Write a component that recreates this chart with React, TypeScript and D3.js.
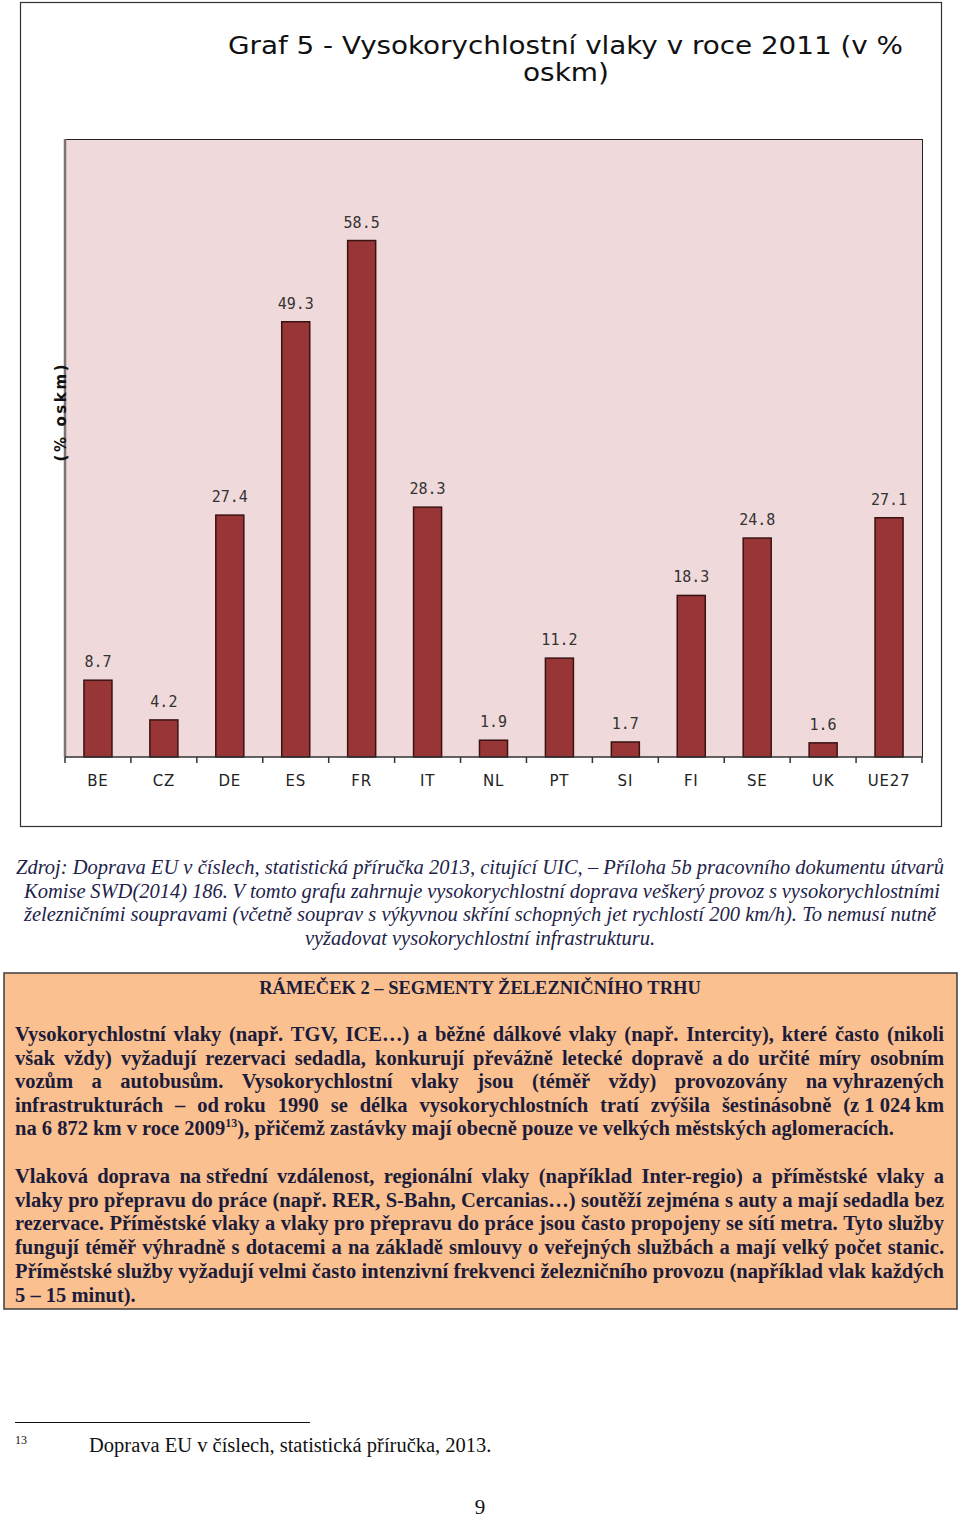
import { useEffect, useRef } from 'react';
import * as d3 from 'd3';

const countries = ['BE', 'CZ', 'DE', 'ES', 'FR', 'IT', 'NL', 'PT', 'SI', 'FI', 'SE', 'UK', 'UE27'];
const shares = [8.7, 4.2, 27.4, 49.3, 58.5, 28.3, 1.9, 11.2, 1.7, 18.3, 24.8, 1.6, 27.1];

const titleLines = ['Graf 5 - Vysokorychlostní vlaky v roce 2011 (v %', 'oskm)'];
const yLabel = '(% oskm)';

const captionLines = [
  'Zdroj: Doprava EU v číslech, statistická příručka 2013, citující UIC, – Příloha 5b pracovního dokumentu útvarů',
  'Komise SWD(2014) 186. V tomto grafu zahrnuje vysokorychlostní doprava veškerý provoz s vysokorychlostními',
  'železničními soupravami (včetně souprav s výkyvnou skříní schopných jet rychlostí 200 km/h). To nemusí nutně',
  'vyžadovat vysokorychlostní infrastrukturu.',
];

const boxTitle = 'RÁMEČEK 2 – SEGMENTY ŽELEZNIČNÍHO TRHU';

const para1 = [
  'Vysokorychlostní vlaky (např. TGV, ICE…) a běžné dálkové vlaky (např. Intercity), které často (nikoli',
  'však vždy) vyžadují rezervaci sedadla, konkurují převážně letecké dopravě a\u00a0do určité míry osobním',
  'vozům a autobusům. Vysokorychlostní vlaky jsou (téměř vždy) provozovány na\u00a0vyhrazených',
  'infrastrukturách – od\u00a0roku 1990 se délka vysokorychlostních tratí zvýšila šestinásobně (z\u00a01\u00a0024\u00a0km',
];
const para1Last = ['na 6 872 km v roce 2009', '13', '), přičemž zastávky mají obecně pouze ve velkých městských aglomeracích.'];

const para2 = [
  'Vlaková doprava na\u00a0střední vzdálenost, regionální vlaky (například Inter-regio) a příměstské vlaky a',
  'vlaky pro přepravu do práce (např. RER, S-Bahn, Cercanias…) soutěží zejména s auty a mají sedadla bez',
  'rezervace. Příměstské vlaky a vlaky pro přepravu do práce jsou často propojeny se sítí metra. Tyto služby',
  'fungují téměř výhradně s dotacemi a na základě smlouvy o veřejných službách a mají velký počet stanic.',
  'Příměstské služby vyžadují velmi často intenzivní frekvenci železničního provozu (například vlak každých',
];
const para2Last = '5 – 15 minut).';

const footnoteNum = '13';
const footnoteText = 'Doprava EU v číslech, statistická příručka, 2013.';
const pageNum = '9';

const SERIF = '"Liberation Serif", "Times New Roman", serif';
const INK = '#1c1c3a';
const TXT = 20.5;

// spread words across [x0, x1] by measuring each word
function justifyLine(
  g: d3.Selection<SVGGElement, unknown, null, undefined>,
  line: string,
  x0: number,
  x1: number,
  y: number,
  style: { size: number; weight?: string; italic?: boolean; fill: string },
) {
  const words = line.split(' ');
  const t = g
    .append('text')
    .attr('y', y)
    .attr('font-family', SERIF)
    .attr('font-size', style.size)
    .attr('font-weight', style.weight ?? 'normal')
    .attr('font-style', style.italic ? 'italic' : 'normal')
    .attr('fill', style.fill);
  const spans = words.map((w) => t.append('tspan').attr('x', x0).text(w));
  const widths = spans.map((s) => (s.node() as SVGTSpanElement).getComputedTextLength());
  const total = d3.sum(widths);
  let gap = words.length > 1 ? (x1 - x0 - total) / (words.length - 1) : 0;
  if (gap < 2) {
    // too long: squeeze glyphs a little
    const k = (x1 - x0 - 2 * (words.length - 1)) / total;
    t.attr('transform', `translate(${x0},0) scale(${k},1) translate(${-x0},0)`);
    gap = 2 / k;
  }
  let x = x0;
  spans.forEach((s, i) => {
    s.attr('x', x);
    x += widths[i] + gap;
  });
}

export default function App() {
  const svgRef = useRef<SVGSVGElement>(null);

  useEffect(() => {
    const svg = d3.select(svgRef.current);
    if (!svg.node()) return;
    svg.selectAll('*').remove();

    // ---- chart frame ----
    svg
      .append('rect')
      .attr('x', 20.5)
      .attr('y', 2.5)
      .attr('width', 921)
      .attr('height', 824)
      .attr('fill', '#fff')
      .attr('stroke', '#333')
      .attr('stroke-width', 1.2);

    const titleG = svg.append('g').attr('font-family', '"DejaVu Sans Condensed", "DejaVu Sans", sans-serif').attr('fill', '#111');
    titleG
      .append('text')
      .attr('x', 228)
      .attr('y', 54)
      .attr('font-size', 25)
      .attr('textLength', 675)
      .attr('lengthAdjust', 'spacingAndGlyphs')
      .text(titleLines[0]);
    titleG
      .append('text')
      .attr('x', 523)
      .attr('y', 81)
      .attr('font-size', 25)
      .attr('textLength', 86)
      .attr('lengthAdjust', 'spacingAndGlyphs')
      .text(titleLines[1]);

    const plot = { left: 65, right: 922, top: 139, bottom: 757 };

    const x = d3.scaleBand<string>().domain(countries).range([plot.left, plot.right]).paddingInner(0.575).paddingOuter(0.2875);
    const y = d3.scaleLinear().domain([0, 70]).range([plot.bottom, plot.top]);

    svg
      .append('rect')
      .attr('x', plot.left)
      .attr('y', plot.top)
      .attr('width', plot.right - plot.left)
      .attr('height', plot.bottom - plot.top)
      .attr('fill', '#efd9da');
    // borders: top and right dark, left gray
    svg.append('line').attr('x1', plot.left).attr('x2', plot.right).attr('y1', plot.top + 0.5).attr('y2', plot.top + 0.5).attr('stroke', '#222');
    svg.append('line').attr('x1', plot.right + 0.5).attr('x2', plot.right + 0.5).attr('y1', plot.top).attr('y2', plot.bottom).attr('stroke', '#222');
    svg.append('line').attr('x1', plot.left).attr('x2', plot.left).attr('y1', plot.top).attr('y2', plot.bottom).attr('stroke', '#7a7474').attr('stroke-width', 2.5);

    const data = countries.map((c, i) => ({ c, v: shares[i] }));

    svg
      .append('g')
      .selectAll('rect')
      .data(data)
      .join('rect')
      .attr('x', (d) => x(d.c)!)
      .attr('y', (d) => y(d.v))
      .attr('width', x.bandwidth())
      .attr('height', (d) => y(0) - y(d.v))
      .attr('fill', '#983536')
      .attr('stroke', '#3a1212')
      .attr('stroke-width', 1.5);

    svg
      .append('g')
      .selectAll('text')
      .data(data)
      .join('text')
      .attr('x', (d) => x(d.c)! + x.bandwidth() / 2)
      .attr('y', (d) => y(d.v) - 13)
      .attr('text-anchor', 'middle')
      .attr('font-family', '"DejaVu Sans Mono", monospace')
      .attr('font-size', 15)
      .attr('fill', '#333')
      .text((d) => d.v.toFixed(1));

    // x axis with ticks at band boundaries
    const step = x.step();
    const bounds = d3.range(countries.length + 1).map((i) => plot.left + i * step);
    const axisG = svg.append('g');
    axisG
      .append('line')
      .attr('x1', plot.left)
      .attr('x2', plot.right)
      .attr('y1', plot.bottom)
      .attr('y2', plot.bottom)
      .attr('stroke', '#333')
      .attr('stroke-width', 1.5);
    axisG
      .selectAll('line.tick')
      .data(bounds)
      .join('line')
      .attr('class', 'tick')
      .attr('x1', (d) => d)
      .attr('x2', (d) => d)
      .attr('y1', plot.bottom)
      .attr('y2', plot.bottom + 6)
      .attr('stroke', '#333')
      .attr('stroke-width', 1.5);
    axisG
      .selectAll('text')
      .data(countries)
      .join('text')
      .attr('x', (d) => x(d)! + x.bandwidth() / 2)
      .attr('y', 786)
      .attr('text-anchor', 'middle')
      .attr('font-family', '"DejaVu Sans", sans-serif')
      .attr('font-size', 15)
      .attr('letter-spacing', 0.8)
      .attr('fill', '#222')
      .text((d) => d);

    svg
      .append('text')
      .attr('transform', 'translate(66,413) rotate(-90)')
      .attr('text-anchor', 'middle')
      .attr('font-family', '"DejaVu Sans", sans-serif')
      .attr('font-weight', 'bold')
      .attr('font-size', 15)
      .attr('textLength', 97)
      .attr('lengthAdjust', 'spacing')
      .attr('fill', '#111')
      .text(yLabel);

    // ---- caption ----
    const cap = svg.append('g');
    const capSpans: [number, number][] = [
      [16, 944],
      [24, 940],
      [24, 936],
    ];
    captionLines.forEach((line, i) => {
      const baseY = 874 + i * 23.5;
      if (i < 3) {
        justifyLine(cap, line, capSpans[i][0], capSpans[i][1], baseY, { size: TXT, italic: true, fill: '#1e2348' });
      } else {
        cap
          .append('text')
          .attr('x', 480)
          .attr('y', baseY)
          .attr('text-anchor', 'middle')
          .attr('font-family', SERIF)
          .attr('font-style', 'italic')
          .attr('font-size', TXT)
          .attr('fill', '#1e2348')
          .text(line);
      }
    });

    // ---- box ----
    svg
      .append('rect')
      .attr('x', 4)
      .attr('y', 973)
      .attr('width', 953)
      .attr('height', 336)
      .attr('fill', '#fac090')
      .attr('stroke', '#3c3c3c')
      .attr('stroke-width', 1.5);

    const box = svg.append('g');
    box
      .append('text')
      .attr('x', 480)
      .attr('y', 994)
      .attr('text-anchor', 'middle')
      .attr('font-family', SERIF)
      .attr('font-weight', 'bold')
      .attr('font-size', 18.5)
      .attr('fill', INK)
      .text(boxTitle);

    const pStyle = { size: TXT, weight: 'bold', fill: INK };
    para1.forEach((line, i) => justifyLine(box, line, 15, 944, 1041 + i * 23.6, pStyle));
    const last1 = box
      .append('text')
      .attr('x', 15)
      .attr('y', 1041 + 4 * 23.6)
      .attr('font-family', SERIF)
      .attr('font-weight', 'bold')
      .attr('font-size', TXT)
      .attr('fill', INK);
    last1.append('tspan').text(para1Last[0]);
    last1.append('tspan').attr('dy', -8).attr('font-size', 12).text(para1Last[1]);
    last1.append('tspan').attr('dy', 8).text(para1Last[2]);

    para2.forEach((line, i) => justifyLine(box, line, 15, 944, 1183 + i * 23.7, pStyle));
    box
      .append('text')
      .attr('x', 15)
      .attr('y', 1183 + 5 * 23.7)
      .attr('font-family', SERIF)
      .attr('font-weight', 'bold')
      .attr('font-size', TXT)
      .attr('fill', INK)
      .text(para2Last);

    // ---- footnote ----
    svg.append('line').attr('x1', 15).attr('x2', 310).attr('y1', 1422.5).attr('y2', 1422.5).attr('stroke', '#111').attr('stroke-width', 1);
    svg
      .append('text')
      .attr('x', 15)
      .attr('y', 1444)
      .attr('font-family', SERIF)
      .attr('font-size', 12)
      .attr('fill', '#111')
      .text(footnoteNum);
    svg
      .append('text')
      .attr('x', 89)
      .attr('y', 1452)
      .attr('font-family', SERIF)
      .attr('font-size', TXT)
      .attr('fill', '#111')
      .text(footnoteText);
    svg
      .append('text')
      .attr('x', 480)
      .attr('y', 1514)
      .attr('text-anchor', 'middle')
      .attr('font-family', SERIF)
      .attr('font-size', 21)
      .attr('fill', '#111')
      .text(pageNum);
  }, []);

  return (
    <svg
      ref={svgRef}
      width={960}
      height={1519}
      style={{ position: 'absolute', left: 0, top: 0, background: '#fff' }}
    />
  );
}
